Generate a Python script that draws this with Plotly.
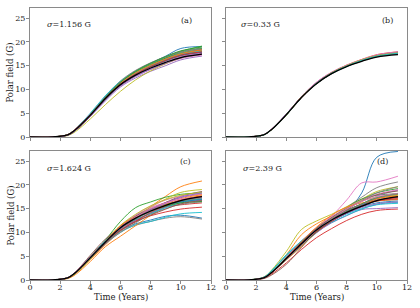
import plotly.graph_objects as go
from plotly.subplots import make_subplots

T = [0, 1.5, 2.5, 3, 4, 5, 6, 7, 8, 9, 10, 11.4]
colors = ['#1f77b4', '#ff7f0e', '#2ca02c', '#d62728', '#9467bd',
          '#8c564b', '#e377c2', '#7f7f7f', '#bcbd22', '#17becf']

sigma_labels = ["σ=1.156 G", "σ=0.33 G", "σ=1.624 G", "σ=2.39 G"]
panel_labels = ["(a)", "(b)", "(c)", "(d)"]
x_ticks = [0, 2, 4, 6, 8, 10, 12]
y_ticks = [0, 5, 10, 15, 20, 25]
x_title = "Time (Years)"
y_title = "Polar field (G)"

mean_a = [0, 0.02, 0.45, 1.5, 4.6, 8.1, 11.0, 13.0, 14.5, 15.7, 16.7, 17.4]
runs_a = [
    [0, 0.03, 0.5, 1.65, 4.8, 8.5, 11.6, 13.8, 15.5, 17.0, 18.6, 19.0],
    [0, 0.02, 0.45, 1.5, 4.5, 8.0, 11.1, 13.2, 14.9, 16.2, 17.2, 17.9],
    [0, 0.03, 0.5, 1.65, 4.8, 8.4, 11.5, 13.7, 15.3, 16.8, 18.0, 19.1],
    [0, 0.02, 0.4, 1.35, 4.4, 7.9, 10.9, 13.1, 14.8, 16.1, 17.1, 17.8],
    [0, 0.02, 0.4, 1.35, 4.3, 7.6, 10.5, 12.4, 13.8, 15.0, 16.2, 17.0],
    [0, 0.02, 0.45, 1.5, 4.6, 8.2, 11.3, 13.5, 15.1, 16.5, 17.6, 18.4],
    [0, 0.03, 0.5, 1.5, 4.5, 7.9, 10.8, 12.8, 14.2, 15.4, 16.5, 17.2],
    [0, 0.03, 0.5, 1.65, 4.9, 8.6, 11.8, 14.0, 15.6, 16.9, 18.0, 18.7],
    [0, 0.01, 0.3, 1.1, 3.8, 6.8, 9.6, 12.0, 13.9, 15.4, 16.6, 17.5],
    [0, 0.03, 0.5, 1.65, 5.0, 8.7, 11.7, 13.8, 15.3, 16.6, 17.6, 18.3],
    [0, 0.02, 0.45, 1.5, 4.7, 8.3, 11.2, 13.3, 14.9, 16.2, 17.3, 18.0],
    [0, 0.03, 0.5, 1.65, 4.6, 8.1, 11.2, 13.4, 15.0, 16.3, 17.4, 18.2],
    [0, 0.02, 0.45, 1.5, 4.6, 8.2, 11.4, 13.6, 15.2, 16.6, 17.8, 18.6],
    [0, 0.02, 0.4, 1.35, 4.5, 8.1, 11.1, 13.2, 14.8, 16.0, 17.0, 17.7],
    [0, 0.02, 0.45, 1.5, 4.6, 8.1, 11.0, 12.9, 14.4, 15.7, 16.8, 17.6],
    [0, 0.02, 0.4, 1.35, 4.4, 7.9, 11.0, 13.3, 15.0, 16.4, 17.5, 18.3],
    [0, 0.03, 0.5, 1.65, 4.8, 8.3, 11.3, 13.4, 14.9, 16.0, 17.0, 17.6],
    [0, 0.02, 0.45, 1.5, 4.7, 8.4, 11.6, 13.9, 15.5, 16.8, 17.9, 18.5],
    [0, 0.02, 0.45, 1.5, 4.6, 8.0, 11.0, 13.2, 14.8, 16.1, 17.2, 18.0],
    [0, 0.02, 0.45, 1.5, 4.7, 8.3, 11.3, 13.4, 15.0, 16.3, 17.4, 18.1],
    [0, 0.02, 0.4, 1.35, 4.5, 8.0, 11.0, 13.1, 14.7, 16.0, 17.1, 17.8],
    [0, 0.02, 0.45, 1.5, 4.6, 8.2, 11.3, 13.5, 15.1, 16.4, 17.5, 18.3],
    [0, 0.02, 0.45, 1.5, 4.7, 8.3, 11.5, 13.8, 15.5, 16.9, 18.1, 18.9],
    [0, 0.02, 0.45, 1.5, 4.6, 8.1, 11.1, 13.2, 14.8, 16.1, 17.2, 17.9],
    [0, 0.02, 0.4, 1.35, 4.4, 7.8, 10.7, 12.7, 14.2, 15.5, 16.6, 17.4],
]

mean_b = [0, 0.02, 0.45, 1.5, 4.7, 8.3, 11.2, 13.3, 14.8, 15.9, 16.8, 17.3]
runs_b = [
    [0, 0.02, 0.45, 1.5, 4.7, 8.4, 11.3, 13.4, 14.9, 16.1, 17.0, 17.6],
    [0, 0.02, 0.46, 1.5, 4.7, 8.3, 11.3, 13.5, 15.1, 16.3, 17.3, 17.9],
    [0, 0.02, 0.44, 1.48, 4.6, 8.3, 11.2, 13.4, 14.9, 16.0, 16.9, 17.5],
    [0, 0.02, 0.45, 1.5, 4.7, 8.4, 11.4, 13.5, 15.0, 16.2, 17.2, 17.8],
    [0, 0.02, 0.45, 1.5, 4.8, 8.4, 11.3, 13.4, 14.9, 16.1, 17.0, 17.7],
    [0, 0.02, 0.44, 1.48, 4.6, 8.2, 11.2, 13.3, 14.9, 16.0, 17.0, 17.6],
    [0, 0.02, 0.48, 1.6, 4.8, 8.5, 11.5, 13.6, 15.1, 16.2, 17.2, 17.9],
    [0, 0.02, 0.45, 1.5, 4.7, 8.3, 11.3, 13.4, 14.9, 16.1, 17.1, 17.7],
    [0, 0.02, 0.45, 1.5, 4.7, 8.4, 11.3, 13.4, 14.9, 16.0, 17.0, 17.6],
    [0, 0.02, 0.45, 1.5, 4.7, 8.3, 11.2, 13.3, 14.8, 16.0, 16.9, 17.4],
    [0, 0.02, 0.46, 1.5, 4.8, 8.4, 11.4, 13.5, 15.0, 16.2, 17.1, 17.8],
    [0, 0.02, 0.45, 1.5, 4.7, 8.3, 11.3, 13.4, 15.0, 16.1, 17.1, 17.7],
    [0, 0.02, 0.44, 1.48, 4.6, 8.3, 11.3, 13.4, 14.9, 16.1, 17.0, 17.6],
    [0, 0.02, 0.45, 1.5, 4.7, 8.4, 11.4, 13.5, 15.0, 16.2, 17.2, 17.8],
    [0, 0.02, 0.46, 1.5, 4.7, 8.4, 11.3, 13.4, 14.9, 16.1, 17.1, 17.8],
    [0, 0.02, 0.45, 1.5, 4.7, 8.3, 11.2, 13.3, 14.9, 16.0, 17.0, 17.5],
    [0, 0.02, 0.48, 1.6, 4.8, 8.5, 11.5, 13.6, 15.1, 16.3, 17.3, 17.9],
    [0, 0.02, 0.45, 1.5, 4.7, 8.3, 11.3, 13.4, 14.9, 16.0, 16.9, 17.5],
    [0, 0.02, 0.45, 1.5, 4.7, 8.4, 11.3, 13.5, 15.0, 16.2, 17.1, 17.7],
    [0, 0.02, 0.45, 1.5, 4.7, 8.3, 11.3, 13.4, 14.9, 16.1, 17.0, 17.6],
]

mean_c = [0, 0.02, 0.45, 1.5, 4.7, 8.0, 11.0, 13.0, 14.5, 15.7, 16.7, 17.5]
runs_c = [
    [0, 0.02, 0.45, 1.5, 4.6, 7.8, 10.4, 11.8, 12.6, 13.4, 13.6, 13.0],
    [0, 0.02, 0.4, 1.35, 4.3, 7.4, 10.3, 12.6, 15.4, 17.6, 19.6, 20.8],
    [0, 0.02, 0.5, 1.65, 4.9, 8.4, 12.3, 15.2, 16.4, 17.4, 18.0, 18.3],
    [0, 0.02, 0.45, 1.5, 4.8, 8.2, 10.8, 12.4, 13.5, 14.3, 14.9, 15.3],
    [0, 0.02, 0.45, 1.5, 4.7, 8.1, 11.3, 13.6, 15.0, 16.3, 17.3, 18.1],
    [0, 0.02, 0.5, 1.65, 5.2, 8.6, 11.0, 12.6, 14.0, 15.4, 16.6, 17.4],
    [0, 0.02, 0.45, 1.5, 4.5, 7.6, 10.6, 13.3, 15.2, 16.2, 16.8, 17.0],
    [0, 0.02, 0.45, 1.5, 4.6, 7.9, 10.2, 11.5, 12.3, 13.0, 13.3, 12.8],
    [0, 0.02, 0.4, 1.35, 4.4, 7.8, 11.2, 13.4, 15.3, 17.0, 18.4, 19.0],
    [0, 0.02, 0.45, 1.5, 4.6, 7.7, 10.0, 11.6, 12.3, 13.2, 13.9, 14.2],
    [0, 0.02, 0.45, 1.5, 4.7, 8.0, 11.1, 13.4, 14.8, 15.9, 16.5, 16.6],
    [0, 0.02, 0.3, 1.1, 3.9, 7.0, 9.2, 11.4, 13.6, 15.4, 16.8, 17.7],
    [0, 0.02, 0.45, 1.5, 4.7, 8.1, 11.2, 13.2, 14.6, 15.8, 16.6, 17.0],
    [0, 0.02, 0.45, 1.5, 4.8, 8.3, 11.0, 12.8, 14.6, 15.4, 15.8, 16.2],
    [0, 0.02, 0.45, 1.5, 4.6, 7.9, 10.6, 12.5, 14.0, 15.3, 16.2, 16.8],
    [0, 0.02, 0.45, 1.5, 4.9, 8.2, 11.3, 13.4, 14.9, 16.3, 17.6, 18.6],
    [0, 0.02, 0.5, 1.65, 4.9, 8.1, 11.2, 13.6, 15.5, 16.8, 17.6, 18.0],
    [0, 0.02, 0.45, 1.5, 4.5, 7.6, 10.0, 12.0, 13.8, 15.0, 15.9, 16.4],
    [0, 0.02, 0.45, 1.5, 4.7, 8.2, 11.5, 13.8, 15.6, 16.9, 17.8, 18.4],
    [0, 0.02, 0.45, 1.5, 4.8, 8.3, 11.0, 12.7, 14.0, 15.2, 16.3, 17.1],
    [0, 0.02, 0.45, 1.5, 4.6, 7.8, 10.8, 13.0, 14.5, 15.6, 16.4, 16.9],
    [0, 0.02, 0.45, 1.5, 4.7, 8.1, 11.4, 13.3, 14.6, 15.9, 17.1, 17.9],
    [0, 0.02, 0.4, 1.35, 4.5, 7.9, 10.9, 12.9, 14.4, 15.5, 16.2, 16.5],
    [0, 0.02, 0.45, 1.5, 4.7, 8.0, 10.5, 12.3, 14.2, 15.6, 16.8, 17.6],
    [0, 0.02, 0.45, 1.5, 4.8, 8.1, 11.1, 13.1, 14.7, 16.1, 17.4, 18.3],
    [0, 0.02, 0.45, 1.5, 4.6, 7.7, 10.4, 12.2, 13.6, 14.9, 16.0, 16.7],
    [0, 0.02, 0.45, 1.5, 4.7, 8.0, 11.0, 13.2, 15.0, 16.2, 17.0, 17.4],
    [0, 0.02, 0.45, 1.5, 4.6, 7.8, 10.8, 12.8, 14.3, 15.6, 16.6, 17.2],
]

mean_d = [0, 0.02, 0.45, 1.5, 4.5, 7.6, 10.5, 12.6, 14.2, 15.5, 16.7, 17.5]
runs_d = [
    [0, 0.02, 0.45, 1.5, 4.6, 7.7, 10.6, 12.5, 14.4, 18.3, 25.8, 27.0],
    [0, 0.02, 0.6, 1.9, 5.3, 9.5, 11.8, 13.4, 14.6, 15.8, 17.0, 17.8],
    [0, 0.02, 0.5, 1.65, 4.8, 8.0, 11.0, 13.2, 15.1, 16.9, 18.3, 19.2],
    [0, 0.02, 0.35, 1.2, 3.6, 6.4, 8.9, 10.8, 12.5, 13.8, 14.6, 14.9],
    [0, 0.02, 0.45, 1.5, 4.4, 7.4, 10.0, 12.0, 13.5, 14.8, 15.0, 15.2],
    [0, 0.02, 0.3, 1.0, 3.3, 6.8, 10.4, 12.8, 14.6, 16.0, 17.2, 18.0],
    [0, 0.02, 0.45, 1.5, 4.5, 7.8, 10.8, 13.4, 16.8, 20.4, 20.6, 21.8],
    [0, 0.02, 0.45, 1.5, 4.7, 7.9, 10.8, 13.1, 15.3, 17.4, 19.4, 20.6],
    [0, 0.02, 0.6, 2.0, 6.0, 10.6, 12.4, 13.8, 15.4, 17.0, 18.6, 19.6],
    [0, 0.02, 0.55, 1.8, 5.1, 8.2, 10.7, 12.4, 13.9, 15.0, 15.8, 16.1],
    [0, 0.02, 0.45, 1.5, 4.6, 7.5, 10.2, 12.4, 14.0, 15.4, 16.2, 16.6],
    [0, 0.02, 0.45, 1.5, 4.2, 7.0, 10.0, 12.3, 14.2, 15.8, 17.1, 17.6],
    [0, 0.02, 0.45, 1.5, 4.4, 7.4, 10.6, 13.0, 15.2, 17.0, 17.8, 18.1],
    [0, 0.02, 0.45, 1.5, 4.6, 7.8, 10.4, 12.5, 14.3, 15.7, 16.7, 17.3],
    [0, 0.02, 0.45, 1.5, 4.5, 7.3, 9.9, 12.2, 14.1, 15.9, 17.6, 18.9],
    [0, 0.02, 0.45, 1.5, 4.7, 8.0, 10.9, 13.0, 14.7, 15.9, 16.8, 17.4],
    [0, 0.02, 0.45, 1.5, 4.8, 8.2, 11.0, 13.3, 15.2, 16.8, 18.0, 19.0],
    [0, 0.02, 0.45, 1.5, 4.3, 7.2, 10.1, 12.6, 14.8, 16.7, 18.3, 19.6],
    [0, 0.02, 0.45, 1.5, 4.6, 7.6, 10.6, 12.9, 15.0, 16.6, 17.4, 17.9],
    [0, 0.02, 0.6, 1.9, 5.3, 8.2, 10.5, 12.1, 13.6, 14.9, 15.9, 16.3],
    [0, 0.02, 0.45, 1.5, 4.5, 7.6, 10.3, 12.5, 14.4, 15.8, 16.6, 16.9],
    [0, 0.02, 0.45, 1.5, 4.6, 8.0, 11.1, 13.6, 15.3, 16.2, 16.6, 16.9],
    [0, 0.02, 0.45, 1.5, 4.4, 7.2, 10.1, 12.4, 14.4, 16.0, 17.3, 18.2],
    [0, 0.02, 0.45, 1.5, 4.5, 7.5, 10.2, 12.3, 14.1, 15.5, 16.6, 17.1],
    [0, 0.02, 0.45, 1.5, 4.6, 7.7, 10.5, 12.5, 14.0, 15.2, 16.0, 16.4],
    [0, 0.02, 0.45, 1.5, 4.7, 7.9, 10.8, 13.0, 14.9, 16.5, 17.9, 18.7],
    [0, 0.02, 0.45, 1.5, 4.4, 7.3, 10.4, 12.9, 14.9, 16.5, 17.5, 18.2],
    [0, 0.02, 0.45, 1.5, 4.5, 7.6, 10.7, 12.9, 14.5, 15.9, 17.2, 18.1],
]

panels = [(runs_a, mean_a), (runs_b, mean_b), (runs_c, mean_c), (runs_d, mean_d)]

FONT = "DejaVu Serif"
fig = make_subplots(rows=2, cols=2)

for i, (runs, mean) in enumerate(panels):
    r, c = i // 2 + 1, i % 2 + 1
    for j, run in enumerate(runs):
        fig.add_trace(go.Scatter(x=T, y=run, mode="lines",
                                 line=dict(color=colors[j % 10], width=0.9, shape="spline"),
                                 showlegend=False, hoverinfo="skip"), row=r, col=c)
    fig.add_trace(go.Scatter(x=T, y=mean, mode="lines",
                             line=dict(color="black", width=1.3, shape="spline"),
                             showlegend=False, hoverinfo="skip"), row=r, col=c)

W, H = 420, 308
L, R, TOP, B = 30, 13, 8, 28
pw = W - L - R
ph = H - TOP - B
xdom = [[0, 181 / pw], [196 / pw, 1]]
ydom_top = [(ph - 129) / ph, 1]
ydom_bot = [0, 129 / ph]

axis_common = dict(showline=True, linecolor="#8a8a8a", linewidth=1, mirror=True,
                   showgrid=False, zeroline=False, ticks="outside", ticklen=3,
                   tickcolor="#8a8a8a", automargin=False,
                   tickfont=dict(family=FONT, size=8, color="#222"))

for i in range(4):
    r, c = i // 2, i % 2
    xa = "xaxis" if i == 0 else f"xaxis{i+1}"
    ya = "yaxis" if i == 0 else f"yaxis{i+1}"
    fig.layout[xa].update(domain=xdom[c], range=[0, 12], tickvals=x_ticks,
                          showticklabels=(r == 1), ticklabelstandoff=-4, **axis_common)
    fig.layout[ya].update(domain=ydom_top if r == 0 else ydom_bot, range=[0, 27.1],
                          tickvals=y_ticks, showticklabels=(c == 0), ticklabelstandoff=-1,
                          **axis_common)

title_font = dict(family=FONT, size=8.5, color="#222")
# axis titles (as paper annotations for precise placement)
for yc in [(ydom_top[0] + ydom_top[1]) / 2, (ydom_bot[0] + ydom_bot[1]) / 2]:
    fig.add_annotation(x=-20 / pw, y=yc, xref="paper", yref="paper", text=y_title,
                       textangle=-90, showarrow=False, xanchor="center", yanchor="middle",
                       font=title_font)
for xd in xdom:
    fig.add_annotation(x=(xd[0] + xd[1]) / 2, y=-17 / ph, xref="paper", yref="paper",
                       text=x_title, showarrow=False, xanchor="center", yanchor="middle",
                       font=title_font)

sig_pos = [(1.0, 23.7), (0.87, 23.7), (1.0, 23.5), (1.0, 23.5)]
lab_pos = [(10.4, 24.4), (10.7, 24.4), (10.3, 25.0), (10.4, 25.0)]
for i in range(4):
    xr = "x" if i == 0 else f"x{i+1}"
    yr = "y" if i == 0 else f"y{i+1}"
    s = sigma_labels[i].replace("σ", "<i>σ</i>")
    fig.add_annotation(x=sig_pos[i][0], y=sig_pos[i][1], xref=xr, yref=yr, text=s,
                       showarrow=False, xanchor="left", yanchor="middle",
                       font=dict(family=FONT, size=8, color="#222"))
    fig.add_annotation(x=lab_pos[i][0], y=lab_pos[i][1], xref=xr, yref=yr, text=panel_labels[i],
                       showarrow=False, xanchor="center", yanchor="middle",
                       font=dict(family=FONT, size=8, color="#222"))

fig.update_layout(width=W, height=H, margin=dict(l=L, r=R, t=TOP, b=B, autoexpand=False),
                  plot_bgcolor="white", paper_bgcolor="white")

fig.write_html("out.html", config={"displayModeBar": False},
               post_script="document.body.style.margin='0';document.body.style.overflow='hidden';")
